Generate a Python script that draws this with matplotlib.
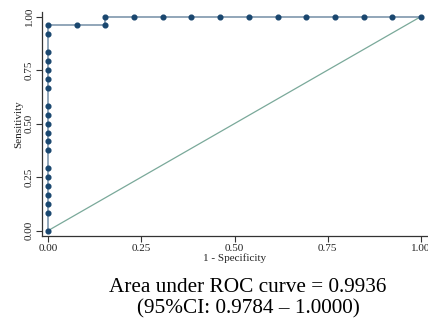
import matplotlib
matplotlib.use('Agg')
from matplotlib import pyplot as plt

# ROC points (1 - specificity, sensitivity)
fpr_k = [0]*20 + [1, 2, 2, 3, 4, 5, 6, 7, 8, 9, 10, 11, 12, 13]
sens_k = [0, 2, 3, 4, 5, 6, 7, 9, 10, 11, 12, 13, 14, 16, 17, 18, 19, 20, 22, 23,
          23, 23, 24, 24, 24, 24, 24, 24, 24, 24, 24, 24, 24, 24]
n_neg = 13
n_pos = 24
fpr = [k / n_neg for k in fpr_k]
sens = [k / n_pos for k in sens_k]

ticks = [0.0, 0.25, 0.5, 0.75, 1.0]
tick_labels = ['0.00', '0.25', '0.50', '0.75', '1.00']
auc_text = 'Area under ROC curve = 0.9936'
ci_text = '(95%CI: 0.9784 \u2013 1.0000)'

plt.rcParams['font.family'] = ['Liberation Serif', 'DejaVu Serif']

fig = plt.figure(figsize=(4.28, 3.26), dpi=100)
W, H = 428, 326
ax = fig.add_axes([42 / W, 1 - 236 / H, (427 - 42) / W, (236 - 12) / H])

ax.plot([0, 1], [0, 1], color='#7aa99a', linewidth=0.9, zorder=1)
ax.plot(fpr, sens, color='#7f97ad', linewidth=1.2, zorder=2)
ax.plot(fpr, sens, linestyle='none', marker='o', markersize=3.4,
        color='#1a476f', zorder=3)

ax.set_xlim(-6 / 373, 1 + 6 / 373)
ax.set_ylim(-5.3 / 213.7, 1 + 4.5 / 213.7)

for s in ['top', 'right']:
    ax.spines[s].set_visible(False)
for s in ['left', 'bottom']:
    ax.spines[s].set_color('#333333')
    ax.spines[s].set_linewidth(0.9)

ax.set_xticks(ticks)
ax.set_xticklabels(tick_labels, fontsize=8)
ax.set_yticks(ticks)
ax.set_yticklabels(tick_labels, fontsize=8, rotation=90, va='center')
ax.tick_params(length=4, width=0.8, color='#333333', labelcolor='#222222', pad=2)

ax.set_xlabel('1 - Specificity', fontsize=8, labelpad=0, color='#222222')
ax.set_ylabel('Sensitivity', fontsize=8, labelpad=1, color='#222222')

fig.text(248 / W, 1 - 288 / H, auc_text, ha='center', va='center', fontsize=15.3)
fig.text(248 / W, 1 - 309 / H, ci_text, ha='center', va='center', fontsize=15.3)

fig.savefig('out.png', dpi=100)
